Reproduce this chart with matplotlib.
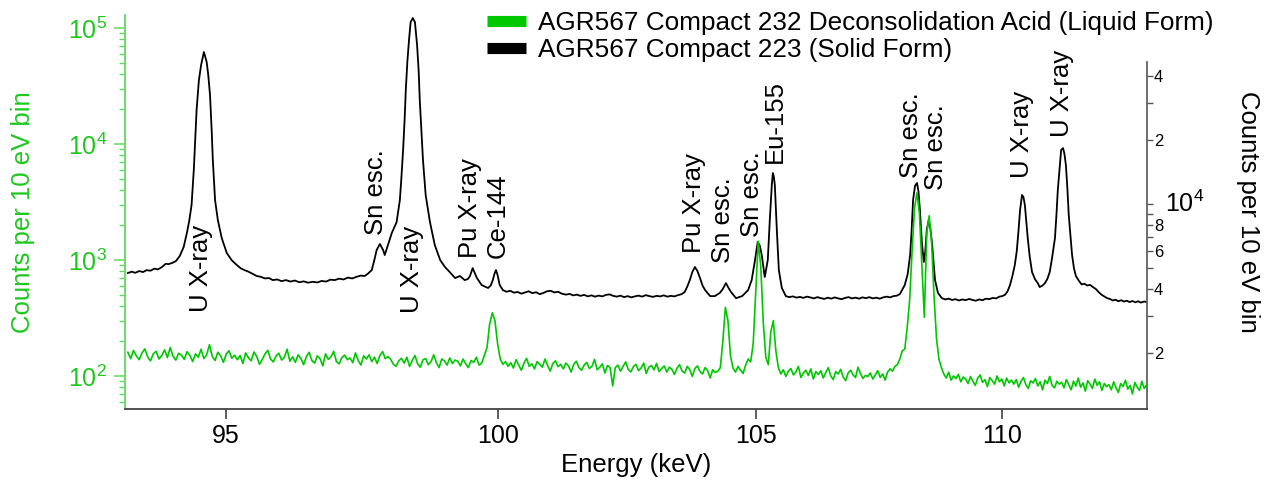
import numpy as np
import matplotlib
matplotlib.use("Agg")
import matplotlib.pyplot as plt
from matplotlib.ticker import FixedLocator, FixedFormatter, NullFormatter, NullLocator

plt.rcParams['font.family'] = ['Liberation Sans', 'DejaVu Sans']
plt.rcParams['mathtext.fontset'] = 'custom'
plt.rcParams['mathtext.rm'] = 'Liberation Sans'
plt.rcParams['mathtext.it'] = 'Liberation Sans:italic'
plt.rcParams['mathtext.bf'] = 'Liberation Sans:bold'

# solid form (black, right axis)
solid_keV = [
    93.25, 93.32, 93.38, 93.45, 93.52, 93.58, 93.65, 93.72, 93.78, 93.85, 93.92, 93.97,
    94.03, 94.10, 94.17, 94.24, 94.30, 94.34, 94.38, 94.42, 94.47, 94.51, 94.55, 94.60,
    94.65, 94.68, 94.71, 94.74, 94.76, 94.80, 94.85, 94.92, 95.01, 95.10,
    95.19, 95.26, 95.33, 95.40, 95.48, 95.55, 95.62, 95.70, 95.77, 95.84, 95.92, 96.00,
    96.08, 96.16, 96.24, 96.32, 96.40, 96.48, 96.57, 96.65, 96.73, 96.81, 96.89, 96.97,
    97.05, 97.13, 97.21, 97.29, 97.37, 97.45, 97.52, 97.58,
    97.65, 97.70, 97.74, 97.80, 97.86, 97.89, 97.95, 98.02,
    98.11, 98.17, 98.20, 98.23, 98.26, 98.28, 98.31, 98.34, 98.37, 98.41,
    98.45, 98.49, 98.52, 98.54, 98.57, 98.60, 98.65, 98.73, 98.82, 98.92,
    99.01, 99.10, 99.20, 99.29, 99.38, 99.44, 99.48, 99.53, 99.57, 99.61,
    99.70, 99.82, 99.87, 99.91, 99.94, 99.97, 100.00,
    100.04, 100.10, 100.17, 100.24, 100.31, 100.38, 100.45, 100.52, 100.59, 100.66,
    100.73, 100.80, 100.87, 100.94, 101.01, 101.08, 101.15, 101.22, 101.30, 101.37,
    101.44, 101.51, 101.58, 101.65, 101.72, 101.79, 101.86, 101.93, 102.00, 102.07,
    102.14, 102.21, 102.28, 102.35, 102.42, 102.49, 102.56, 102.63, 102.70, 102.77,
    102.84, 102.91, 102.98, 103.05, 103.12, 103.19, 103.26, 103.33, 103.40, 103.47,
    103.54, 103.60, 103.65, 103.70,
    103.75, 103.80, 103.85, 103.90, 103.95, 104.00, 104.10, 104.19, 104.29, 104.35,
    104.41, 104.46, 104.51, 104.61, 104.73, 104.85, 104.92, 104.98, 105.04, 105.08,
    105.12, 105.18, 105.24, 105.28, 105.32, 105.34, 105.36, 105.38, 105.42, 105.46,
    105.52, 105.60, 105.67, 105.74, 105.81, 105.88, 105.95, 106.02, 106.09, 106.16,
    106.23, 106.30, 106.37, 106.44, 106.51, 106.58, 106.65, 106.72, 106.79, 106.86,
    106.93, 107.00, 107.07, 107.14, 107.21, 107.28, 107.35, 107.42, 107.49, 107.56,
    107.63, 107.70, 107.77, 107.84, 107.90, 108.00, 108.06,
    108.11, 108.14, 108.17, 108.21, 108.25, 108.28, 108.31, 108.35, 108.39, 108.42,
    108.45, 108.49, 108.52, 108.56, 108.59, 108.62, 108.68,
    108.76, 108.83, 108.90, 108.97, 109.04, 109.11, 109.18, 109.25, 109.32, 109.39,
    109.46, 109.53, 109.60, 109.67, 109.74, 109.81, 109.88, 109.95, 110.01, 110.07,
    110.12, 110.17, 110.22, 110.27,
    110.31, 110.34, 110.38, 110.42, 110.45, 110.48, 110.51, 110.54, 110.58, 110.63,
    110.69, 110.75, 110.79, 110.85, 110.90, 110.95, 111.00, 111.05, 111.11, 111.14,
    111.17, 111.21, 111.24, 111.28, 111.31, 111.34, 111.37, 111.40, 111.44, 111.47,
    111.51, 111.55, 111.61, 111.67, 111.73, 111.79, 111.85, 111.91, 111.97, 112.03,
    112.09, 112.15, 112.21, 112.27, 112.33, 112.39, 112.45, 112.51, 112.57, 112.63,
    112.69, 112.75, 112.81, 112.87, 112.93, 113.00, 113.06]
solid_counts = [
    4750, 4820, 4760, 4850, 4800, 4900, 4870, 4980, 4940, 5060, 5250, 5230,
    5290, 5400, 5710, 6300, 7400, 8400, 9910, 14500, 27700, 38000, 45000, 51800,
    46500, 40000, 32500, 22000, 16100, 10460, 8420, 6930, 5900, 5450,
    5180, 5000, 4900, 4820, 4700, 4600, 4560, 4480, 4500, 4400, 4430, 4350,
    4400, 4330, 4380, 4300, 4340, 4280, 4320, 4290, 4360, 4330, 4420, 4400,
    4470, 4430, 4520, 4480, 4560, 4620, 4600, 4720,
    4905, 5500, 6090, 6500, 6090, 5770, 6430, 7320,
    8240, 10460, 13500, 17960, 25500, 34300, 47000, 59000, 71600, 74800,
    71600, 55900, 42000, 30800, 22500, 16100, 11040, 8240, 6430, 5470,
    5070, 4800, 4500, 4600, 4400, 4450, 4600, 5010, 4750, 4500,
    4170, 4040, 4150, 4400, 4700, 4905, 4650,
    4170, 3950, 3880, 3920, 3840, 3870, 3800, 3850, 3900, 3820,
    3860, 3780, 3830, 3900, 3920, 3850, 3880, 3800, 3760, 3790,
    3730, 3760, 3710, 3750, 3690, 3730, 3680, 3720, 3690, 3750,
    3770, 3710, 3680, 3720, 3660, 3700, 3650, 3690, 3720, 3680,
    3740, 3700, 3670, 3710, 3690, 3730, 3680, 3710, 3690, 3740,
    3780, 3870, 4100, 4400,
    4800, 5070, 4850, 4500, 4150, 3950, 3700, 3700, 3830, 4000,
    4260, 4050, 3870, 3620, 3700, 3950, 4400, 5350, 6640, 6400,
    5770, 4550, 5470, 8420, 12300, 14000, 13500, 12300, 7560, 4905,
    4040, 3700, 3660, 3690, 3640, 3670, 3630, 3680, 3650, 3610,
    3660, 3620, 3590, 3640, 3600, 3650, 3610, 3580, 3630, 3660,
    3610, 3640, 3600, 3650, 3620, 3660, 3610, 3640, 3600, 3650,
    3680, 3650, 3700, 3720, 3780, 4170, 4700,
    5770, 7500, 10460, 12200, 12570, 11500, 9380, 6600, 5350, 6000,
    7560, 8420, 7800, 6500, 5300, 4400, 3830,
    3620, 3570, 3600, 3550, 3580, 3530, 3570, 3540, 3590, 3550,
    3520, 3570, 3540, 3600, 3580, 3630, 3610, 3680, 3700, 3760,
    3900, 4170, 4600, 5180,
    6000, 7160, 9380, 11040, 10800, 9910, 8300, 6930, 5700, 4800,
    4450, 4260, 4080, 4150, 4260, 4450, 4800, 5600, 6930, 8800,
    11650, 15000, 17960, 18340, 17200, 15260, 12000, 8890, 7000, 5770,
    5000, 4600, 4380, 4200, 4230, 4150, 4180, 4080, 4000, 3870,
    3760, 3690, 3620, 3590, 3530, 3560, 3500, 3540, 3490, 3520,
    3470, 3510, 3460, 3500, 3450, 3490, 3470]

# liquid form (green, left axis): one value per 50 eV bin starting at 93.25 keV
liquid_first_keV = 93.25
liquid_bin_keV = 0.05
liquid_counts = [
    160, 141, 166, 149, 138, 158, 171, 146, 135, 155, 163, 140, 150, 168, 144, 176, 148, 137, 157, 151,
    139, 162, 150, 133, 155, 145, 170, 141, 152, 186, 147, 136, 160, 149, 131, 154, 165, 142, 151, 138,
    150, 128, 158, 143, 135, 161, 147, 126, 139, 155, 166, 140, 132, 149, 157, 137, 145, 170, 134, 146,
    131, 152, 142, 125, 147, 160, 136, 129, 149, 141, 122, 155, 139, 146, 163, 133, 127, 144, 151, 138,
    143, 130, 158, 136, 124, 149, 140, 152, 133, 145, 128, 150, 162, 141, 147, 139, 126, 121, 135, 142,
    129, 145, 121, 136, 150, 127, 119, 138, 141, 125, 133, 152, 130, 118, 140, 135, 124, 143, 128, 137,
    134, 122, 140, 127, 118, 136, 131, 145, 124, 129, 150, 175, 280, 350, 300, 190, 140, 126, 133, 121,
    130, 117, 138, 124, 112, 129, 142, 121, 127, 115, 133, 126, 119, 140, 123, 110, 128, 135, 120, 126,
    115, 129, 122, 108, 126, 134, 118, 112, 124, 131, 116, 121, 139, 113, 119, 127, 106, 123, 118, 82,
    118, 124, 110, 121, 132, 114, 108, 120, 126, 111, 117, 129, 105, 119, 123, 113, 128, 109, 116, 122,
    108, 119, 114, 103, 117, 125, 110, 106, 121, 113, 99, 116, 122, 109, 104, 118, 111, 96, 113, 107,
    110, 118, 200, 390, 300, 150, 117, 108, 121, 112, 105, 124, 140, 132, 190, 520, 1450, 880, 290, 145,
    125, 240, 300, 165, 118, 104, 113, 99, 110, 116, 102, 108, 121, 97, 106, 112, 101, 115, 94, 109,
    103, 111, 96, 107, 118, 100, 93, 109, 104, 114, 98, 91, 106, 112, 102, 97, 119, 105, 95, 101,
    99, 106, 94, 102, 111, 97, 104, 92, 108, 115, 110, 121, 125, 140, 165, 170, 260, 450, 1200, 2800,
    3800, 2500, 900, 320, 1700, 2400, 1400, 480, 210, 140, 118, 104, 96, 108, 92, 100, 95, 103, 89, 98,
    94, 86, 99, 90, 83, 96, 102, 88, 93, 81, 97, 91, 85, 100, 89, 94, 82, 96, 87, 92,
    85, 93, 80, 90, 97, 84, 78, 91, 87, 95, 82, 89, 76, 92, 86, 99, 83, 79, 90, 85,
    88, 79, 93, 84, 76, 90, 82, 96, 80, 87, 74, 91, 85, 78, 94, 83, 89, 75, 86, 81,
    84, 76, 89, 79, 72, 86, 81, 92, 77, 83, 70, 88, 80, 75, 90, 78, 84]
liquid_keV = liquid_first_keV + liquid_bin_keV * np.arange(len(liquid_counts))

# peak labels: text, energy, counts (right axis) at the foot of the label
peak_labels = ["U X-ray", "Sn esc.", "U X-ray", "Pu X-ray", "Ce-144", "Pu X-ray", "Sn esc.",
               "Sn esc.", "Eu-155", "Sn esc.", "Sn esc.", "U X-ray", "U X-ray"]
peak_label_keV = [94.55, 97.73, 98.39, 99.48, 100.0, 103.78, 104.35,
                  104.92, 105.38, 108.12, 108.64, 110.42, 111.26]
peak_label_counts = [3110, 7160, 3080, 5590, 5590, 5900, 5290,
                     7010, 15600, 13260, 11650, 13260, 20660]

liquid_name = "AGR567 Compact 232 Deconsolidation Acid (Liquid Form)"
solid_name = "AGR567 Compact 223 (Solid Form)"

green = '#00C800'
green_axis = '#5EDB5E'
green_text = '#1EC81E'

W, H = 1270, 482
fig = plt.figure(figsize=(W / 100, H / 100), dpi=100)
left, right, bottom, top = 125, 1147, 409, 15
ax = fig.add_axes([left / W, 1 - bottom / H, (right - left) / W, (bottom - top) / H])
ax2 = ax.twinx()

ax.set_xscale('log')
ax.set_yscale('log')
ax2.set_yscale('log')

l2, = ax2.plot(solid_keV, solid_counts, color='black', lw=1.3, label=solid_name)
l1, = ax.plot(liquid_keV, liquid_counts, color=green, lw=1.2, label=liquid_name)

ax.set_zorder(ax2.get_zorder() + 1)
ax.patch.set_visible(False)

ax.set_xlim(93.2, 113.06)
ax.set_ylim(51.9, 1.29e5)
ax2.set_ylim(1092, 7.73e4)

ax.xaxis.set_major_locator(FixedLocator([95, 100, 105, 110]))
ax.xaxis.set_major_formatter(FixedFormatter(['95', '100', '105', '110']))
ax.xaxis.set_minor_locator(NullLocator())
ax.tick_params(axis='x', which='major', length=7, width=1.2, color='#444444',
               labelsize=18, pad=4)

ax.tick_params(axis='y', which='major', length=8, width=1.1, color=green_axis,
               labelcolor=green_text, labelsize=18, pad=5)
ax.tick_params(axis='y', which='minor', length=4.5, width=1.0, color=green_axis)

for s in ['top', 'right']:
    ax.spines[s].set_visible(False)
ax.spines['left'].set_color(green_axis)
ax.spines['left'].set_linewidth(1.3)
ax.spines['bottom'].set_color('#444444')
ax.spines['bottom'].set_linewidth(1.3)

for s in ['top', 'left', 'bottom']:
    ax2.spines[s].set_visible(False)
ax2.spines['right'].set_color('#555555')
ax2.spines['right'].set_linewidth(1.2)
ax2.spines['right'].set_bounds(1092, 4.65e4)

ax2.yaxis.set_major_locator(FixedLocator([2e3, 4e3, 6e3, 8e3, 2e4, 4e4]))
ax2.yaxis.set_major_formatter(FixedFormatter(['2', '4', '6', '8', '2', '4']))
ax2.yaxis.set_minor_locator(FixedLocator([3e3, 5e3, 7e3, 9e3, 1e4, 3e4]))
ax2.yaxis.set_minor_formatter(NullFormatter())
ax2.tick_params(axis='y', which='both', length=4, width=1.0, color='#555555',
                labelsize=12, pad=1)
ax2.text(1.0176, 1e4, r'$10^{4}$', transform=ax2.get_yaxis_transform(),
         ha='left', va='center', fontsize=18)

for txt, e, c in zip(peak_labels, peak_label_keV, peak_label_counts):
    ax2.text(e, c, txt, rotation=90, ha='center', va='bottom', fontsize=18.5)

fig.text(23 / W, 1 - 212 / H, 'Counts per 10 eV bin', rotation=90, color=green_text,
         ha='center', va='center', fontsize=18.5)
fig.text(1248 / W, 1 - 212 / H, 'Counts per 10 eV bin', rotation=270, color='black',
         ha='center', va='center', fontsize=18.5)
fig.text(636 / W, 1 - 465 / H, 'Energy (keV)', ha='center', va='center', fontsize=18.5)

leg = fig.legend([l1, l2], [liquid_name, solid_name], loc='upper left',
                 bbox_to_anchor=(487 / W, 1 - 11 / H), frameon=False, borderpad=0,
                 borderaxespad=0, handlelength=1.5, handletextpad=0.45,
                 labelspacing=0.12, fontsize=18.8)
for ln in leg.get_lines():
    ln.set_linewidth(8)
    ln.set_solid_capstyle('butt')

fig.savefig('out.png', dpi=100)
